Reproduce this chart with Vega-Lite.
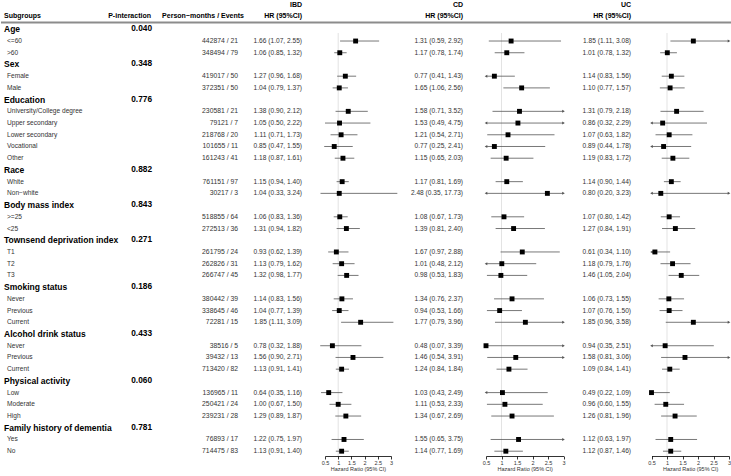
{
  "$schema": "https://vega.github.io/schema/vega-lite/v6.json",
  "padding": 0,
  "autosize": {"type": "pad"},
  "spacing": 0,
  "bounds": "flush",
  "config": {
    "view": {"stroke": null},
    "font": "Liberation Sans",
    "text": {"font": "Liberation Sans", "baseline": "middle"},
    "axis": {"labelFont": "Liberation Sans", "titleFont": "Liberation Sans", "labelOverlap": false, "labelBound": false}
  },
  "data": {"values": [
    {"r": 0, "kind": "g", "label": "Age", "p": "0.040"},
    {"r": 1, "kind": "i", "label": "<=60", "pm": "442874 / 21", "ibd": 1.66, "ibd_lo": 1.07, "ibd_hi": 2.55, "ibd_txt": "1.66 (1.07, 2.55)", "cd": 1.31, "cd_lo": 0.59, "cd_hi": 2.92, "cd_txt": "1.31 (0.59, 2.92)", "uc": 1.85, "uc_lo": 1.11, "uc_hi": 3.08, "uc_txt": "1.85 (1.11, 3.08)"},
    {"r": 2, "kind": "i", "label": ">60", "pm": "348494 / 79", "ibd": 1.06, "ibd_lo": 0.85, "ibd_hi": 1.32, "ibd_txt": "1.06 (0.85, 1.32)", "cd": 1.17, "cd_lo": 0.78, "cd_hi": 1.74, "cd_txt": "1.17 (0.78, 1.74)", "uc": 1.01, "uc_lo": 0.78, "uc_hi": 1.32, "uc_txt": "1.01 (0.78, 1.32)"},
    {"r": 3, "kind": "g", "label": "Sex", "p": "0.348"},
    {"r": 4, "kind": "i", "label": "Female", "pm": "419017 / 50", "ibd": 1.27, "ibd_lo": 0.96, "ibd_hi": 1.68, "ibd_txt": "1.27 (0.96, 1.68)", "cd": 0.77, "cd_lo": 0.41, "cd_hi": 1.43, "cd_txt": "0.77 (0.41, 1.43)", "uc": 1.14, "uc_lo": 0.83, "uc_hi": 1.56, "uc_txt": "1.14 (0.83, 1.56)"},
    {"r": 5, "kind": "i", "label": "Male", "pm": "372351 / 50", "ibd": 1.04, "ibd_lo": 0.79, "ibd_hi": 1.37, "ibd_txt": "1.04 (0.79, 1.37)", "cd": 1.65, "cd_lo": 1.06, "cd_hi": 2.56, "cd_txt": "1.65 (1.06, 2.56)", "uc": 1.10, "uc_lo": 0.77, "uc_hi": 1.57, "uc_txt": "1.10 (0.77, 1.57)"},
    {"r": 6, "kind": "g", "label": "Education", "p": "0.776"},
    {"r": 7, "kind": "i", "label": "University/College degree", "pm": "230581 / 21", "ibd": 1.38, "ibd_lo": 0.90, "ibd_hi": 2.12, "ibd_txt": "1.38 (0.90, 2.12)", "cd": 1.58, "cd_lo": 0.71, "cd_hi": 3.52, "cd_txt": "1.58 (0.71, 3.52)", "uc": 1.31, "uc_lo": 0.79, "uc_hi": 2.18, "uc_txt": "1.31 (0.79, 2.18)"},
    {"r": 8, "kind": "i", "label": "Upper secondary", "pm": "79121 / 7", "ibd": 1.05, "ibd_lo": 0.50, "ibd_hi": 2.22, "ibd_txt": "1.05 (0.50, 2.22)", "cd": 1.53, "cd_lo": 0.49, "cd_hi": 4.75, "cd_txt": "1.53 (0.49, 4.75)", "uc": 0.86, "uc_lo": 0.32, "uc_hi": 2.29, "uc_txt": "0.86 (0.32, 2.29)"},
    {"r": 9, "kind": "i", "label": "Lower secondary", "pm": "218768 / 20", "ibd": 1.11, "ibd_lo": 0.71, "ibd_hi": 1.73, "ibd_txt": "1.11 (0.71, 1.73)", "cd": 1.21, "cd_lo": 0.54, "cd_hi": 2.71, "cd_txt": "1.21 (0.54, 2.71)", "uc": 1.07, "uc_lo": 0.63, "uc_hi": 1.82, "uc_txt": "1.07 (0.63, 1.82)"},
    {"r": 10, "kind": "i", "label": "Vocational", "pm": "101655 / 11", "ibd": 0.85, "ibd_lo": 0.47, "ibd_hi": 1.55, "ibd_txt": "0.85 (0.47, 1.55)", "cd": 0.77, "cd_lo": 0.25, "cd_hi": 2.41, "cd_txt": "0.77 (0.25, 2.41)", "uc": 0.89, "uc_lo": 0.44, "uc_hi": 1.78, "uc_txt": "0.89 (0.44, 1.78)"},
    {"r": 11, "kind": "i", "label": "Other", "pm": "161243 / 41", "ibd": 1.18, "ibd_lo": 0.87, "ibd_hi": 1.61, "ibd_txt": "1.18 (0.87, 1.61)", "cd": 1.15, "cd_lo": 0.65, "cd_hi": 2.03, "cd_txt": "1.15 (0.65, 2.03)", "uc": 1.19, "uc_lo": 0.83, "uc_hi": 1.72, "uc_txt": "1.19 (0.83, 1.72)"},
    {"r": 12, "kind": "g", "label": "Race", "p": "0.882"},
    {"r": 13, "kind": "i", "label": "White", "pm": "761151 / 97", "ibd": 1.15, "ibd_lo": 0.94, "ibd_hi": 1.40, "ibd_txt": "1.15 (0.94, 1.40)", "cd": 1.17, "cd_lo": 0.81, "cd_hi": 1.69, "cd_txt": "1.17 (0.81, 1.69)", "uc": 1.14, "uc_lo": 0.90, "uc_hi": 1.44, "uc_txt": "1.14 (0.90, 1.44)"},
    {"r": 14, "kind": "i", "label": "Non−white", "pm": "30217 / 3", "ibd": 1.04, "ibd_lo": 0.33, "ibd_hi": 3.24, "ibd_txt": "1.04 (0.33, 3.24)", "cd": 2.48, "cd_lo": 0.35, "cd_hi": 17.73, "cd_txt": "2.48 (0.35, 17.73)", "uc": 0.80, "uc_lo": 0.20, "uc_hi": 3.23, "uc_txt": "0.80 (0.20, 3.23)"},
    {"r": 15, "kind": "g", "label": "Body mass index", "p": "0.843"},
    {"r": 16, "kind": "i", "label": ">=25", "pm": "518855 / 64", "ibd": 1.06, "ibd_lo": 0.83, "ibd_hi": 1.36, "ibd_txt": "1.06 (0.83, 1.36)", "cd": 1.08, "cd_lo": 0.67, "cd_hi": 1.73, "cd_txt": "1.08 (0.67, 1.73)", "uc": 1.07, "uc_lo": 0.80, "uc_hi": 1.42, "uc_txt": "1.07 (0.80, 1.42)"},
    {"r": 17, "kind": "i", "label": "<25", "pm": "272513 / 36", "ibd": 1.31, "ibd_lo": 0.94, "ibd_hi": 1.82, "ibd_txt": "1.31 (0.94, 1.82)", "cd": 1.39, "cd_lo": 0.81, "cd_hi": 2.40, "cd_txt": "1.39 (0.81, 2.40)", "uc": 1.27, "uc_lo": 0.84, "uc_hi": 1.91, "uc_txt": "1.27 (0.84, 1.91)"},
    {"r": 18, "kind": "g", "label": "Townsend deprivation index", "p": "0.271"},
    {"r": 19, "kind": "i", "label": "T1", "pm": "261795 / 24", "ibd": 0.93, "ibd_lo": 0.62, "ibd_hi": 1.39, "ibd_txt": "0.93 (0.62, 1.39)", "cd": 1.67, "cd_lo": 0.97, "cd_hi": 2.88, "cd_txt": "1.67 (0.97, 2.88)", "uc": 0.61, "uc_lo": 0.34, "uc_hi": 1.10, "uc_txt": "0.61 (0.34, 1.10)"},
    {"r": 20, "kind": "i", "label": "T2", "pm": "262826 / 31", "ibd": 1.13, "ibd_lo": 0.79, "ibd_hi": 1.62, "ibd_txt": "1.13 (0.79, 1.62)", "cd": 1.01, "cd_lo": 0.48, "cd_hi": 2.12, "cd_txt": "1.01 (0.48, 2.12)", "uc": 1.18, "uc_lo": 0.79, "uc_hi": 1.76, "uc_txt": "1.18 (0.79, 1.76)"},
    {"r": 21, "kind": "i", "label": "T3", "pm": "266747 / 45", "ibd": 1.32, "ibd_lo": 0.98, "ibd_hi": 1.77, "ibd_txt": "1.32 (0.98, 1.77)", "cd": 0.98, "cd_lo": 0.53, "cd_hi": 1.83, "cd_txt": "0.98 (0.53, 1.83)", "uc": 1.46, "uc_lo": 1.05, "uc_hi": 2.04, "uc_txt": "1.46 (1.05, 2.04)"},
    {"r": 22, "kind": "g", "label": "Smoking status", "p": "0.186"},
    {"r": 23, "kind": "i", "label": "Never", "pm": "380442 / 39", "ibd": 1.14, "ibd_lo": 0.83, "ibd_hi": 1.56, "ibd_txt": "1.14 (0.83, 1.56)", "cd": 1.34, "cd_lo": 0.76, "cd_hi": 2.37, "cd_txt": "1.34 (0.76, 2.37)", "uc": 1.06, "uc_lo": 0.73, "uc_hi": 1.55, "uc_txt": "1.06 (0.73, 1.55)"},
    {"r": 24, "kind": "i", "label": "Previous", "pm": "338645 / 46", "ibd": 1.04, "ibd_lo": 0.77, "ibd_hi": 1.39, "ibd_txt": "1.04 (0.77, 1.39)", "cd": 0.94, "cd_lo": 0.53, "cd_hi": 1.66, "cd_txt": "0.94 (0.53, 1.66)", "uc": 1.07, "uc_lo": 0.76, "uc_hi": 1.50, "uc_txt": "1.07 (0.76, 1.50)"},
    {"r": 25, "kind": "i", "label": "Current", "pm": "72281 / 15", "ibd": 1.85, "ibd_lo": 1.11, "ibd_hi": 3.09, "ibd_txt": "1.85 (1.11, 3.09)", "cd": 1.77, "cd_lo": 0.79, "cd_hi": 3.96, "cd_txt": "1.77 (0.79, 3.96)", "uc": 1.85, "uc_lo": 0.96, "uc_hi": 3.58, "uc_txt": "1.85 (0.96, 3.58)"},
    {"r": 26, "kind": "g", "label": "Alcohol drink status", "p": "0.433"},
    {"r": 27, "kind": "i", "label": "Never", "pm": "38516 / 5", "ibd": 0.78, "ibd_lo": 0.32, "ibd_hi": 1.88, "ibd_txt": "0.78 (0.32, 1.88)", "cd": 0.48, "cd_lo": 0.07, "cd_hi": 3.39, "cd_txt": "0.48 (0.07, 3.39)", "uc": 0.94, "uc_lo": 0.35, "uc_hi": 2.51, "uc_txt": "0.94 (0.35, 2.51)"},
    {"r": 28, "kind": "i", "label": "Previous", "pm": "39432 / 13", "ibd": 1.56, "ibd_lo": 0.90, "ibd_hi": 2.71, "ibd_txt": "1.56 (0.90, 2.71)", "cd": 1.46, "cd_lo": 0.54, "cd_hi": 3.91, "cd_txt": "1.46 (0.54, 3.91)", "uc": 1.58, "uc_lo": 0.81, "uc_hi": 3.06, "uc_txt": "1.58 (0.81, 3.06)"},
    {"r": 29, "kind": "i", "label": "Current", "pm": "713420 / 82", "ibd": 1.13, "ibd_lo": 0.91, "ibd_hi": 1.41, "ibd_txt": "1.13 (0.91, 1.41)", "cd": 1.24, "cd_lo": 0.84, "cd_hi": 1.84, "cd_txt": "1.24 (0.84, 1.84)", "uc": 1.09, "uc_lo": 0.84, "uc_hi": 1.41, "uc_txt": "1.09 (0.84, 1.41)"},
    {"r": 30, "kind": "g", "label": "Physical activity", "p": "0.060"},
    {"r": 31, "kind": "i", "label": "Low", "pm": "136965 / 11", "ibd": 0.64, "ibd_lo": 0.35, "ibd_hi": 1.16, "ibd_txt": "0.64 (0.35, 1.16)", "cd": 1.03, "cd_lo": 0.43, "cd_hi": 2.49, "cd_txt": "1.03 (0.43, 2.49)", "uc": 0.49, "uc_lo": 0.22, "uc_hi": 1.09, "uc_txt": "0.49 (0.22, 1.09)"},
    {"r": 32, "kind": "i", "label": "Moderate", "pm": "250421 / 24", "ibd": 1.00, "ibd_lo": 0.67, "ibd_hi": 1.50, "ibd_txt": "1.00 (0.67, 1.50)", "cd": 1.11, "cd_lo": 0.53, "cd_hi": 2.33, "cd_txt": "1.11 (0.53, 2.33)", "uc": 0.96, "uc_lo": 0.60, "uc_hi": 1.55, "uc_txt": "0.96 (0.60, 1.55)"},
    {"r": 33, "kind": "i", "label": "High", "pm": "239231 / 28", "ibd": 1.29, "ibd_lo": 0.89, "ibd_hi": 1.87, "ibd_txt": "1.29 (0.89, 1.87)", "cd": 1.34, "cd_lo": 0.67, "cd_hi": 2.69, "cd_txt": "1.34 (0.67, 2.69)", "uc": 1.26, "uc_lo": 0.81, "uc_hi": 1.96, "uc_txt": "1.26 (0.81, 1.96)"},
    {"r": 34, "kind": "g", "label": "Family history of dementia", "p": "0.781"},
    {"r": 35, "kind": "i", "label": "Yes", "pm": "76893 / 17", "ibd": 1.22, "ibd_lo": 0.75, "ibd_hi": 1.97, "ibd_txt": "1.22 (0.75, 1.97)", "cd": 1.55, "cd_lo": 0.65, "cd_hi": 3.75, "cd_txt": "1.55 (0.65, 3.75)", "uc": 1.12, "uc_lo": 0.63, "uc_hi": 1.97, "uc_txt": "1.12 (0.63, 1.97)"},
    {"r": 36, "kind": "i", "label": "No", "pm": "714475 / 83", "ibd": 1.13, "ibd_lo": 0.91, "ibd_hi": 1.40, "ibd_txt": "1.13 (0.91, 1.40)", "cd": 1.14, "cd_lo": 0.77, "cd_hi": 1.69, "cd_txt": "1.14 (0.77, 1.69)", "uc": 1.12, "uc_lo": 0.87, "uc_hi": 1.46, "uc_txt": "1.12 (0.87, 1.46)"}
  ]},
  "hconcat": [
    {
      "width": 151, "height": 455,
      "layer": [
        {"data": {"values": [{"k": 1}]}, "mark": {"type": "rule", "color": "#8c8c8c", "strokeWidth": 2},
         "encoding": {"y": {"datum": -0.58, "type": "quantitative", "scale": {"domain": [-2.415, 36.41], "reverse": true, "nice": false, "zero": false}, "axis": null}}},
        {"data": {"values": [{"k": 1}]}, "mark": {"type": "text", "text": "Subgroups", "fontWeight": "bold", "fontSize": 7, "align": "left", "dx": 3, "color": "#000"},
         "encoding": {"x": {"value": 0}, "y": {"datum": -1.135, "type": "quantitative"}}},
        {"data": {"values": [{"k": 1}]}, "mark": {"type": "text", "text": "P-interaction", "fontWeight": "bold", "fontSize": 7, "align": "right", "dx": -1, "color": "#000"},
         "encoding": {"x": {"value": "width"}, "y": {"datum": -1.135, "type": "quantitative"}}},
        {"transform": [{"filter": "datum.kind == 'g'"}],
         "mark": {"type": "text", "fontWeight": "bold", "fontSize": 8.5, "align": "left", "dx": 3, "color": "#000"},
         "encoding": {"x": {"value": 0}, "y": {"field": "r", "type": "quantitative"}, "text": {"field": "label"}}},
        {"transform": [{"filter": "datum.kind == 'g'"}],
         "mark": {"type": "text", "fontWeight": "bold", "fontSize": 8.3, "align": "right", "color": "#000"},
         "encoding": {"x": {"value": "width"}, "y": {"field": "r", "type": "quantitative"}, "text": {"field": "p"}}},
        {"transform": [{"filter": "datum.kind == 'i'"}],
         "mark": {"type": "text", "fontSize": 6.6, "align": "left", "dx": 6, "color": "#333"},
         "encoding": {"x": {"value": 0}, "y": {"field": "r", "type": "quantitative"}, "text": {"field": "label"}}}
      ]
    },
    {
      "width": 86, "height": 455,
      "layer": [
        {"data": {"values": [{"k": 1}]}, "mark": {"type": "rule", "color": "#8c8c8c", "strokeWidth": 2},
         "encoding": {"y": {"datum": -0.58, "type": "quantitative", "scale": {"domain": [-2.415, 36.41], "reverse": true, "nice": false, "zero": false}, "axis": null}}},
        {"data": {"values": [{"k": 1}]}, "mark": {"type": "text", "text": "Person−months / Events", "fontWeight": "bold", "fontSize": 7, "align": "right", "dx": 6, "color": "#000"},
         "encoding": {"x": {"value": "width"}, "y": {"datum": -1.135, "type": "quantitative"}}},
        {"transform": [{"filter": "datum.kind == 'i'"}],
         "mark": {"type": "text", "fontSize": 6.8, "align": "right", "color": "#333"},
         "encoding": {"x": {"value": "width"}, "y": {"field": "r", "type": "quantitative"}, "text": {"field": "pm"}}}
      ]
    },
    {
      "width": 64, "height": 455,
      "layer": [
        {"data": {"values": [{"k": 1}]}, "mark": {"type": "rule", "color": "#8c8c8c", "strokeWidth": 2},
         "encoding": {"y": {"datum": -0.58, "type": "quantitative", "scale": {"domain": [-2.415, 36.41], "reverse": true, "nice": false, "zero": false}, "axis": null}}},
        {"data": {"values": [{"k": 1}]}, "mark": {"type": "text", "text": "IBD", "fontWeight": "bold", "fontSize": 7, "align": "right", "color": "#000"},
         "encoding": {"x": {"value": "width"}, "y": {"datum": -2.074, "type": "quantitative"}}},
        {"data": {"values": [{"k": 1}]}, "mark": {"type": "text", "text": "HR (95%CI)", "fontWeight": "bold", "fontSize": 7, "align": "right", "color": "#000"},
         "encoding": {"x": {"value": "width"}, "y": {"datum": -1.135, "type": "quantitative"}}},
        {"transform": [{"filter": "datum.kind == 'i'"}],
         "mark": {"type": "text", "fontSize": 6.6, "align": "right", "color": "#333"},
         "encoding": {"x": {"value": "width"}, "y": {"field": "r", "type": "quantitative"}, "text": {"field": "ibd_txt"}}}
      ]
    },
    {
      "width": 91, "height": 455,
      "layer": [
        {"data": {"values": [{"k": 1}]}, "mark": {"type": "rule", "color": "#8c8c8c", "strokeWidth": 2},
         "encoding": {"y": {"datum": -0.58, "type": "quantitative", "scale": {"domain": [-2.415, 36.41], "reverse": true, "nice": false, "zero": false}, "axis": null}}},
        {"data": {"values": [{"k": 1}]}, "mark": {"type": "rule", "color": "#dcdcdc", "strokeWidth": 0.8},
         "encoding": {
           "x": {"datum": 1, "type": "quantitative", "scale": {"domain": [0.5, 3], "range": [23, 89], "nice": false, "zero": false}, "axis": {"orient": "bottom", "values": [0.5, 1, 1.5, 2, 2.5, 3], "format": "~g", "labelOverlap": false, "title": "Hazard Ratio (95% CI)", "grid": false, "labelFontSize": 5.5, "titleFontSize": 5.5, "titleFontWeight": "normal", "tickSize": 3, "labelPadding": 1, "titlePadding": 1, "domainColor": "#000", "tickColor": "#000", "labelColor": "#333", "titleColor": "#333", "labelFlush": false, "domainWidth": 0.8, "tickWidth": 0.8}},
           "y": {"datum": 0.316, "type": "quantitative"}, "y2": {"datum": 36.41}}},
        {"transform": [{"filter": "datum.kind == 'i'"}],
         "mark": {"type": "rule", "color": "#555", "strokeWidth": 0.8},
         "encoding": {"x": {"field": "ibd_lo", "type": "quantitative", "axis": {"orient": "bottom", "values": [0.5, 1, 1.5, 2, 2.5, 3], "format": "~g", "labelOverlap": false, "title": "Hazard Ratio (95% CI)"}}, "x2": {"field": "ibd_hi"}, "y": {"field": "r", "type": "quantitative"}}},
        {"transform": [{"filter": "datum.kind == 'i'"}],
         "mark": {"type": "point", "shape": "square", "filled": true, "color": "#000", "size": 24, "opacity": 1},
         "encoding": {"x": {"field": "ibd", "type": "quantitative", "axis": {"orient": "bottom", "values": [0.5, 1, 1.5, 2, 2.5, 3], "format": "~g", "labelOverlap": false, "title": "Hazard Ratio (95% CI)"}}, "y": {"field": "r", "type": "quantitative"}}}
      ]
    },
    {
      "width": 70, "height": 455,
      "layer": [
        {"data": {"values": [{"k": 1}]}, "mark": {"type": "rule", "color": "#8c8c8c", "strokeWidth": 2},
         "encoding": {"y": {"datum": -0.58, "type": "quantitative", "scale": {"domain": [-2.415, 36.41], "reverse": true, "nice": false, "zero": false}, "axis": null}}},
        {"data": {"values": [{"k": 1}]}, "mark": {"type": "text", "text": "CD", "fontWeight": "bold", "fontSize": 7, "align": "right", "color": "#000"},
         "encoding": {"x": {"value": "width"}, "y": {"datum": -2.074, "type": "quantitative"}}},
        {"data": {"values": [{"k": 1}]}, "mark": {"type": "text", "text": "HR (95%CI)", "fontWeight": "bold", "fontSize": 7, "align": "right", "color": "#000"},
         "encoding": {"x": {"value": "width"}, "y": {"datum": -1.135, "type": "quantitative"}}},
        {"transform": [{"filter": "datum.kind == 'i'"}],
         "mark": {"type": "text", "fontSize": 6.6, "align": "right", "color": "#333"},
         "encoding": {"x": {"value": "width"}, "y": {"field": "r", "type": "quantitative"}, "text": {"field": "cd_txt"}}}
      ]
    },
    {
      "width": 103, "height": 455,
      "layer": [
        {"data": {"values": [{"k": 1}]}, "mark": {"type": "rule", "color": "#8c8c8c", "strokeWidth": 2},
         "encoding": {"y": {"datum": -0.58, "type": "quantitative", "scale": {"domain": [-2.415, 36.41], "reverse": true, "nice": false, "zero": false}, "axis": null}}},
        {"data": {"values": [{"k": 1}]}, "mark": {"type": "rule", "color": "#dcdcdc", "strokeWidth": 0.8},
         "encoding": {
           "x": {"datum": 1, "type": "quantitative", "scale": {"domain": [0.5, 3], "range": [23, 100.5], "nice": false, "zero": false, "clamp": true}, "axis": {"orient": "bottom", "values": [0.5, 1, 1.5, 2, 2.5, 3], "format": "~g", "labelOverlap": false, "title": "Hazard Ratio (95% CI)", "grid": false, "labelFontSize": 5.5, "titleFontSize": 5.5, "titleFontWeight": "normal", "tickSize": 3, "labelPadding": 1, "titlePadding": 1, "domainColor": "#000", "tickColor": "#000", "labelColor": "#333", "titleColor": "#333", "labelFlush": false, "domainWidth": 0.8, "tickWidth": 0.8}},
           "y": {"datum": 0.316, "type": "quantitative"}, "y2": {"datum": 36.41}}},
        {"transform": [{"filter": "datum.kind == 'i'"}],
         "mark": {"type": "rule", "color": "#555", "strokeWidth": 0.8},
         "encoding": {"x": {"field": "cd_lo", "type": "quantitative", "axis": {"orient": "bottom", "values": [0.5, 1, 1.5, 2, 2.5, 3], "format": "~g", "labelOverlap": false, "title": "Hazard Ratio (95% CI)"}}, "x2": {"field": "cd_hi"}, "y": {"field": "r", "type": "quantitative"}}},
        {"transform": [{"filter": "datum.kind == 'i' && datum.cd_lo < 0.5"}],
         "mark": {"type": "point", "shape": "triangle-left", "filled": true, "color": "#555", "size": 9, "opacity": 1},
         "encoding": {"x": {"field": "cd_lo", "type": "quantitative", "axis": {"orient": "bottom", "values": [0.5, 1, 1.5, 2, 2.5, 3], "format": "~g", "labelOverlap": false, "title": "Hazard Ratio (95% CI)"}}, "y": {"field": "r", "type": "quantitative"}}},
        {"transform": [{"filter": "datum.kind == 'i' && datum.cd_hi > 3"}],
         "mark": {"type": "point", "shape": "triangle-right", "filled": true, "color": "#555", "size": 9, "opacity": 1},
         "encoding": {"x": {"field": "cd_hi", "type": "quantitative", "axis": {"orient": "bottom", "values": [0.5, 1, 1.5, 2, 2.5, 3], "format": "~g", "labelOverlap": false, "title": "Hazard Ratio (95% CI)"}}, "y": {"field": "r", "type": "quantitative"}}},
        {"transform": [{"filter": "datum.kind == 'i'"}],
         "mark": {"type": "point", "shape": "square", "filled": true, "color": "#000", "size": 24, "opacity": 1},
         "encoding": {"x": {"field": "cd", "type": "quantitative", "axis": {"orient": "bottom", "values": [0.5, 1, 1.5, 2, 2.5, 3], "format": "~g", "labelOverlap": false, "title": "Hazard Ratio (95% CI)"}}, "y": {"field": "r", "type": "quantitative"}}}
      ]
    },
    {
      "width": 65, "height": 455,
      "layer": [
        {"data": {"values": [{"k": 1}]}, "mark": {"type": "rule", "color": "#8c8c8c", "strokeWidth": 2},
         "encoding": {"y": {"datum": -0.58, "type": "quantitative", "scale": {"domain": [-2.415, 36.41], "reverse": true, "nice": false, "zero": false}, "axis": null}}},
        {"data": {"values": [{"k": 1}]}, "mark": {"type": "text", "text": "UC", "fontWeight": "bold", "fontSize": 7, "align": "right", "color": "#000"},
         "encoding": {"x": {"value": "width"}, "y": {"datum": -2.074, "type": "quantitative"}}},
        {"data": {"values": [{"k": 1}]}, "mark": {"type": "text", "text": "HR (95%CI)", "fontWeight": "bold", "fontSize": 7, "align": "right", "color": "#000"},
         "encoding": {"x": {"value": "width"}, "y": {"datum": -1.135, "type": "quantitative"}}},
        {"transform": [{"filter": "datum.kind == 'i'"}],
         "mark": {"type": "text", "fontSize": 6.6, "align": "right", "color": "#333"},
         "encoding": {"x": {"value": "width"}, "y": {"field": "r", "type": "quantitative"}, "text": {"field": "uc_txt"}}}
      ]
    },
    {
      "width": 101, "height": 455,
      "layer": [
        {"data": {"values": [{"k": 1}]}, "mark": {"type": "rule", "color": "#8c8c8c", "strokeWidth": 2},
         "encoding": {"y": {"datum": -0.58, "type": "quantitative", "scale": {"domain": [-2.415, 36.41], "reverse": true, "nice": false, "zero": false}, "axis": null}}},
        {"data": {"values": [{"k": 1}]}, "mark": {"type": "rule", "color": "#dcdcdc", "strokeWidth": 0.8},
         "encoding": {
           "x": {"datum": 1, "type": "quantitative", "scale": {"domain": [0.5, 3], "range": [20.5, 98], "nice": false, "zero": false, "clamp": true}, "axis": {"orient": "bottom", "values": [0.5, 1, 1.5, 2, 2.5, 3], "format": "~g", "labelOverlap": false, "title": "Hazard Ratio (95% CI)", "grid": false, "labelFontSize": 5.5, "titleFontSize": 5.5, "titleFontWeight": "normal", "tickSize": 3, "labelPadding": 1, "titlePadding": 1, "domainColor": "#000", "tickColor": "#000", "labelColor": "#333", "titleColor": "#333", "labelFlush": false, "domainWidth": 0.8, "tickWidth": 0.8}},
           "y": {"datum": 0.316, "type": "quantitative"}, "y2": {"datum": 36.41}}},
        {"transform": [{"filter": "datum.kind == 'i'"}],
         "mark": {"type": "rule", "color": "#555", "strokeWidth": 0.8},
         "encoding": {"x": {"field": "uc_lo", "type": "quantitative", "axis": {"orient": "bottom", "values": [0.5, 1, 1.5, 2, 2.5, 3], "format": "~g", "labelOverlap": false, "title": "Hazard Ratio (95% CI)"}}, "x2": {"field": "uc_hi"}, "y": {"field": "r", "type": "quantitative"}}},
        {"transform": [{"filter": "datum.kind == 'i' && datum.uc_lo < 0.5"}],
         "mark": {"type": "point", "shape": "triangle-left", "filled": true, "color": "#555", "size": 9, "opacity": 1},
         "encoding": {"x": {"field": "uc_lo", "type": "quantitative", "axis": {"orient": "bottom", "values": [0.5, 1, 1.5, 2, 2.5, 3], "format": "~g", "labelOverlap": false, "title": "Hazard Ratio (95% CI)"}}, "y": {"field": "r", "type": "quantitative"}}},
        {"transform": [{"filter": "datum.kind == 'i' && datum.uc_hi > 3"}],
         "mark": {"type": "point", "shape": "triangle-right", "filled": true, "color": "#555", "size": 9, "opacity": 1},
         "encoding": {"x": {"field": "uc_hi", "type": "quantitative", "axis": {"orient": "bottom", "values": [0.5, 1, 1.5, 2, 2.5, 3], "format": "~g", "labelOverlap": false, "title": "Hazard Ratio (95% CI)"}}, "y": {"field": "r", "type": "quantitative"}}},
        {"transform": [{"filter": "datum.kind == 'i'"}],
         "mark": {"type": "point", "shape": "square", "filled": true, "color": "#000", "size": 24, "opacity": 1},
         "encoding": {"x": {"field": "uc", "type": "quantitative", "axis": {"orient": "bottom", "values": [0.5, 1, 1.5, 2, 2.5, 3], "format": "~g", "labelOverlap": false, "title": "Hazard Ratio (95% CI)"}}, "y": {"field": "r", "type": "quantitative"}}}
      ]
    }
  ]
}
